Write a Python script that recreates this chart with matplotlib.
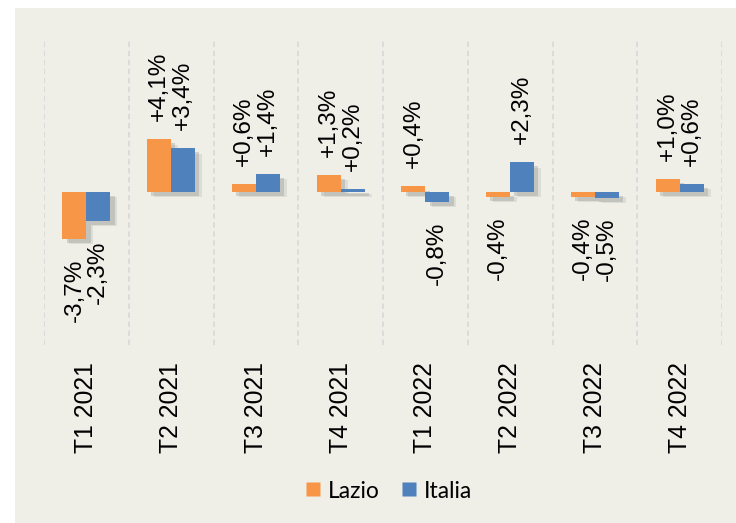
import numpy as np
import matplotlib
matplotlib.use('Agg')
import matplotlib.pyplot as plt
import matplotlib.patheffects as pe
from matplotlib.lines import Line2D
from matplotlib.patches import Rectangle

# Data
quarters = ["T1 2021", "T2 2021", "T3 2021", "T4 2021",
            "T1 2022", "T2 2022", "T3 2022", "T4 2022"]
lazio = [-3.7, 4.1, 0.6, 1.3, 0.4, -0.4, -0.4, 1.0]
italia = [-2.3, 3.4, 1.4, 0.2, -0.8, 2.3, -0.5, 0.6]
series_names = ["Lazio", "Italia"]

c_lazio = '#F79646'
c_italia = '#4F81BD'
panel_bg = '#EFEEE7'

plt.rcParams['font.family'] = ['Liberation Sans', 'DejaVu Sans']

fig = plt.figure(figsize=(7.36, 5.23), dpi=100)
fig.patch.set_facecolor('white')
fig.patches.append(Rectangle((15 / 736, 0), 1 - 15 / 736, 1 - 8 / 523,
                             transform=fig.transFigure, facecolor=panel_bg,
                             edgecolor='none', zorder=-10))

ax = fig.add_axes([44 / 736, 1 - 345 / 523, (722 - 44) / 736, (345 - 38) / 523])
ax.set_facecolor('none')

x = np.arange(len(quarters))
w = 0.283
# soft-ish drop shadow like the original
shadow = [pe.SimplePatchShadow(offset=(5, -4), shadow_rgbFace='#999999', alpha=0.2),
          pe.SimplePatchShadow(offset=(3, -3), shadow_rgbFace='#777777', alpha=0.25),
          pe.Normal()]

for vals, off, col in [(lazio, -w / 2, c_lazio), (italia, w / 2, c_italia)]:
    bars = ax.bar(x + off, vals, width=w, color=col, zorder=3)
    for b in bars:
        b.set_path_effects(shadow)
    for xi, v in zip(x + off, vals):
        txt = f"{v:+.1f}%".replace('.', ',')
        ax.annotate(txt, (xi, v), xytext=(0, 13 if v >= 0 else -14),
                    textcoords='offset points', rotation=90, ha='center',
                    va='bottom' if v >= 0 else 'top', fontsize=17.5,
                    color='black', zorder=4)

for b in np.arange(-0.5, len(quarters), 1.0):
    ax.axvline(b, color='#DADADA', linewidth=1.3, linestyle=(0, (3, 2)), zorder=1)

ax.set_xlim(-0.5, len(quarters) - 0.5)
ax.set_ylim(-12, 12)
ax.set_yticks([])
ax.set_xticks(x)
ax.set_xticklabels(quarters, rotation=90, fontsize=17.8, va='top', ha='center')
ax.tick_params(axis='x', length=0, pad=12)
for s in ax.spines.values():
    s.set_visible(False)

handles = [Line2D([], [], marker='s', linestyle='none', markersize=9.5,
                  markerfacecolor=c, markeredgecolor='none')
           for c in (c_lazio, c_italia)]
fig.legend(handles, series_names, loc='center', bbox_to_anchor=(388 / 736, 1 - 491 / 523),
           ncol=2, frameon=False, handlelength=0.8, handletextpad=0.25,
           columnspacing=0.9, prop={'family': 'Lato', 'size': 16.5})

plt.savefig('out.png', dpi=100)
